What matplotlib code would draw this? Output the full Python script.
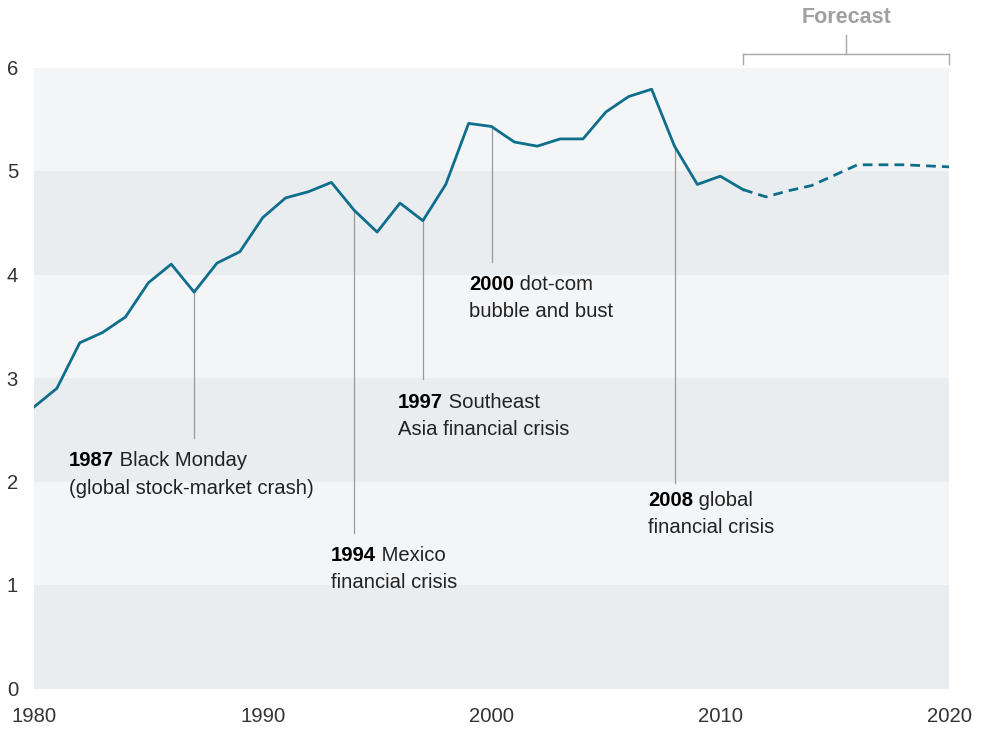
import matplotlib
matplotlib.use("Agg")
import matplotlib.pyplot as plt

years = list(range(1980, 2021))
values = [2.72, 2.90, 3.34, 3.44, 3.59, 3.92, 4.10, 3.83, 4.11, 4.22,
          4.55, 4.74, 4.80, 4.89, 4.62, 4.41, 4.69, 4.52, 4.87, 5.46,
          5.43, 5.28, 5.24, 5.31, 5.31, 5.57, 5.72, 5.79, 5.24, 4.87,
          4.95, 4.82, 4.75, 4.81, 4.86, 4.96, 5.06, 5.06, 5.06, 5.05,
          5.04]
forecast_start = 2011

events = [
    # year, bold label, rest of line1, line2, leader end, text x, baseline1, baseline2
    (1987, "1987", " Black Monday", "(global stock-market crash)", 2.42, 1981.53, 2.145, 1.884),
    (1994, "1994", " Mexico", "financial crisis", 1.505, 1992.98, 1.232, 0.971),
    (1997, "1997", " Southeast", "Asia financial crisis", 2.99, 1995.91, 2.710, 2.449),
    (2000, "2000", " dot-com", "bubble and bust", 4.12, 1999.02, 3.850, 3.589),
    (2008, "2008", " global", "financial crisis", 1.99, 2006.84, 1.763, 1.502),
]

yticks = [0, 1, 2, 3, 4, 5, 6]
xticks = [1980, 1990, 2000, 2010, 2020]

plt.rcParams['font.family'] = ['Liberation Sans', 'DejaVu Sans']
FS = 14.6
LINE_C = "#0e6e8b"
DARK_BAND = "#eaedf0"
LIGHT_BAND = "#f4f5f7"
GRAY = "#9a9a9a"

fig = plt.figure(figsize=(9.82, 7.29), dpi=100)
ax = fig.add_axes([34/982, 1-688.5/729, (949-34)/982, (688.5-67.5)/729])
ax.set_xlim(1980, 2020)
ax.set_ylim(0, 6)

for i in range(6):
    ax.axhspan(i, i+1, color=DARK_BAND if i % 2 == 0 else LIGHT_BAND, lw=0, zorder=0)

for s in ax.spines.values():
    s.set_visible(False)

idx = years.index(forecast_start)
ax.plot(years[:idx+1], values[:idx+1], color=LINE_C, lw=2.0, zorder=3)
ax.plot(years[idx:], values[idx:], color=LINE_C, lw=2.0, zorder=3,
        linestyle=(0, (3.5, 2.2)))

fig.canvas.draw()
for yr, bold, rest, line2, yend, tx, b1, b2 in events:
    yv = values[years.index(yr)]
    ax.plot([yr, yr], [yv, yend], color=GRAY, lw=0.9, zorder=2)
    t = ax.text(tx, b1, bold, fontsize=FS, fontweight='bold', va='baseline',
                ha='left', color='black', zorder=4)
    ax.annotate(rest, xy=(1, 0), xycoords=t, va='bottom', ha='left',
                fontsize=FS, color='#222222', zorder=4)
    ax.text(tx, b2, line2, fontsize=FS, va='baseline', ha='left',
            color='#222222', zorder=4)

# Forecast bracket
bx0, bx1 = 2011.0, 2020.0
bmid = (bx0 + bx1) / 2
kw = dict(color="#a8a8a8", lw=1.0, clip_on=False)
ax.plot([bx0, bx1], [6.13, 6.13], **kw)
ax.plot([bx0, bx0], [6.13, 6.03], **kw)
ax.plot([bx1, bx1], [6.13, 6.03], **kw)
ax.plot([bmid, bmid], [6.13, 6.31], **kw)
ax.text(bmid, 6.48, "Forecast", ha='center', va='center', fontsize=15.5,
        fontweight='bold', color="#a0a0a0", clip_on=False)

ax.set_yticks(yticks)
ax.set_yticklabels([str(v) for v in yticks])
ax.set_xticks(xticks)
ax.set_xticklabels([str(v) for v in xticks])
ax.set_xticks([1990, 2000, 2010], minor=True)
ax.tick_params(axis='y', length=0, pad=11.5, labelsize=FS, labelcolor='#333333')
ax.tick_params(axis='x', which='major', length=0, pad=13, labelsize=FS,
               labelcolor='#333333')
ax.tick_params(axis='x', which='minor', direction='in', length=10, width=1,
               color='#555555')

fig.savefig("out.png", dpi=100)
